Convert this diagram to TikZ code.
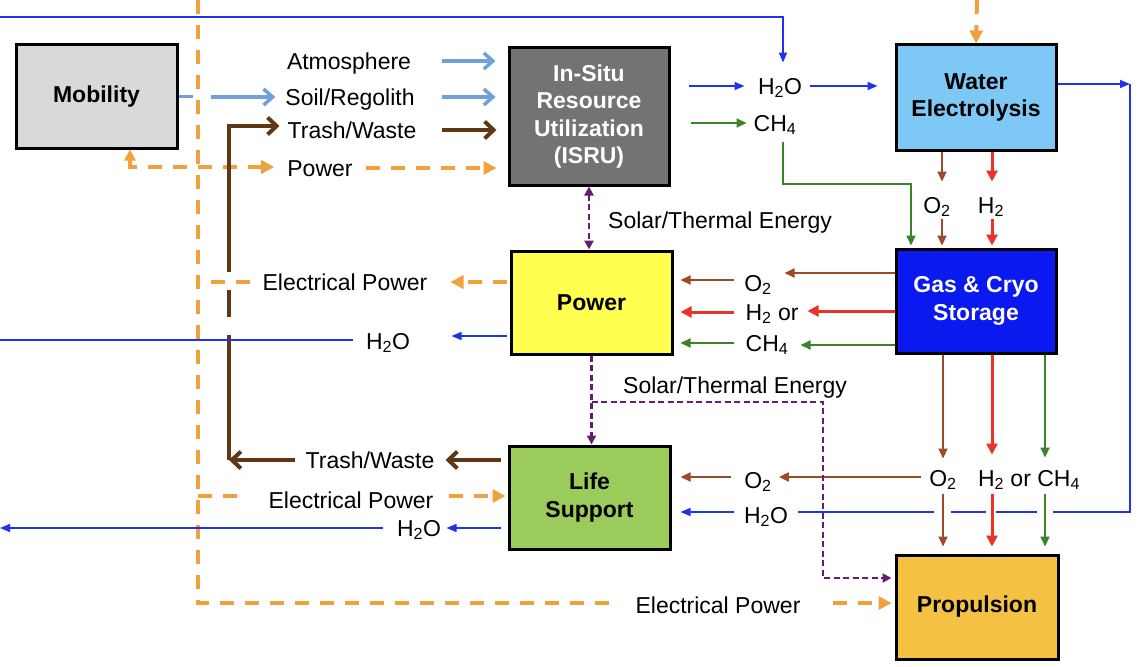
\documentclass[tikz,border=0pt]{standalone}
\usepackage{fontspec}
\setmainfont{Liberation Sans}
\usetikzlibrary{arrows.meta,calc}
\definecolor{lblue}{RGB}{110,160,220}
\definecolor{tbrown}{RGB}{95,55,20}
\definecolor{sbrown}{RGB}{155,75,40}
\definecolor{rred}{RGB}{235,50,40}
\definecolor{ggreen}{RGB}{60,130,40}
\definecolor{bblue}{RGB}{30,50,240}
\definecolor{oorange}{RGB}{240,160,60}
\definecolor{ppurple}{RGB}{100,30,110}
\definecolor{mobfill}{RGB}{217,217,217}
\definecolor{isrufill}{RGB}{115,115,115}
\definecolor{wefill}{RGB}{125,200,245}
\definecolor{powfill}{RGB}{255,255,80}
\definecolor{gasfill}{RGB}{10,25,240}
\definecolor{lifefill}{RGB}{155,203,91}
\definecolor{propfill}{RGB}{244,193,66}
\newcommand{\lab}{\fontsize{23}{27.5}\selectfont}
\newcommand{\sbs}[1]{\textsubscript{#1}}
\tikzset{
  box/.style={draw=black, line width=3pt, align=center, font=\lab\bfseries, inner sep=0pt},
  lbl/.style={inner sep=0pt, text height=16.5pt, text depth=0pt, font=\lab},
  lb/.style={draw=lblue, line width=3.5pt},
  lba/.style={lb, -{Straight Barb[length=9pt,width=16pt]}},
  tb/.style={draw=tbrown, line width=4pt},
  tba/.style={tb, -{Straight Barb[length=9pt,width=17pt]}},
  bl/.style={draw=bblue, line width=1.6pt},
  bla/.style={bl, -{Triangle[length=10pt,width=8pt]}},
  sb/.style={draw=sbrown, line width=2pt},
  sba/.style={sb, -{Triangle[length=10pt,width=9pt]}},
  rd/.style={draw=rred, line width=3pt},
  rda/.style={rd, -{Triangle[length=11pt,width=11pt]}},
  gn/.style={draw=ggreen, line width=2pt},
  gna/.style={gn, -{Triangle[length=10pt,width=9pt]}},
  od/.style={draw=oorange, line width=4pt, dash pattern=on 14pt off 11pt},
  oda/.style={od, -{Triangle[length=13pt,width=13pt]}},
  pd/.style={draw=ppurple, line width=2.2pt, dash pattern=on 6pt off 3.5pt},
  pda/.style={pd, -{Triangle[length=9pt,width=9pt]}},
}
\begin{document}
\begin{tikzpicture}[x=1pt,y=-1pt]
\useasboundingbox[fill=white] (0,0) rectangle (1142,666);

% boxes
\node[box, fill=mobfill, minimum width=161pt, minimum height=103pt] (mob) at (96.5,96.5) {Mobility};
\node[box, fill=isrufill, text=white, minimum width=160pt, minimum height=137pt] (isru) at (589,116.5) {In-Situ\\Resource\\Utilization\\(ISRU)};
\node[box, fill=wefill, minimum width=160pt, minimum height=105pt] (we) at (976,97.5) {Water\\Electrolysis};
\node[box, fill=powfill, minimum width=161pt, minimum height=103pt] (pow) at (591.5,302.5) {Power};
\node[box, fill=gasfill, text=white, minimum width=160pt, minimum height=104pt] (gas) at (976,301) {Gas \& Cryo\\Storage};
\node[box, fill=lifefill, minimum width=161pt, minimum height=103pt] (life) at (589.5,497.5) {Life\\Support};
\node[box, fill=propfill, minimum width=162pt, minimum height=104pt, text depth=0pt, text height=11pt] (prop) at (977,607) {Propulsion};

% labels
\node[lbl] (atm) at (349,61) {Atmosphere};
\node[lbl] (soil) at (350,97) {Soil/Regolith};
\node[lbl] (trA) at (352,130) {Trash/Waste};
\node[lbl] (pwA) at (320,168) {Power};
\node[lbl] (h2oA) at (780,86) {H\sbs{2}O};
\node[lbl] (ch4A) at (775,123) {CH\sbs{4}};
\node[lbl] (o2A) at (937,205) {O\sbs{2}};
\node[lbl] (h2A) at (991,205) {H\sbs{2}};
\node[lbl] (solA) at (720,220) {Solar/Thermal Energy};
\node[lbl] (epA) at (345,282) {Electrical Power};
\node[lbl] (h2oB) at (388,341) {H\sbs{2}O};
\node[lbl] (o2B) at (758,283) {O\sbs{2}};
\node[lbl] (h2B) at (772,312) {H\sbs{2} or};
\node[lbl] (ch4B) at (767,343) {CH\sbs{4}};
\node[lbl] (solB) at (735,385) {Solar/Thermal Energy};
\node[lbl] (trB) at (370,460) {Trash/Waste};
\node[lbl] (epB) at (351,500) {Electrical Power};
\node[lbl] (h2oC) at (419,528) {H\sbs{2}O};
\node[lbl] (o2C) at (943,478) {O\sbs{2}};
\node[lbl] (hcC) at (1029,478) {H\sbs{2} or CH\sbs{4}};
\node[lbl] (o2D) at (758,480) {O\sbs{2}};
\node[lbl] (h2oD) at (766,515) {H\sbs{2}O};
\node[lbl] (epC) at (718,605) {Electrical Power};

% helper coordinates
\coordinate (topL) at (0,17);
\coordinate (topE) at (977,0);
\coordinate (busT) at (198,0);
\coordinate (busB) at (198,603);
\coordinate (brT) at (229,126);
\coordinate (brB) at (229,460);
\coordinate (wR) at (1130,84);
\coordinate (wB) at (1130,512);
\coordinate (leftA) at (0,340);
\coordinate (leftB) at (0,528);
\coordinate (mobP) at (130,167);
\coordinate (solJ) at (591.5,402);
\coordinate (solK) at (823,402);
\coordinate (solL) at (823,578);
\coordinate (cO) at (943,0);
\coordinate (cH) at (992,0);
\coordinate (cC) at (1045,0);

% orange power bus
\draw[od] (busT) -- (busB) -- ([xshift=-18]epC.west |- busB);
\draw[oda] ([xshift=32]epC.east |- busB) -- ([xshift=-3]prop.west |- busB);
\draw[oda] (topE) -- (we.north);
\draw[od, {Triangle[length=11pt,width=11pt]}-{Triangle[length=13pt,width=13pt]}] (mob.south -| mobP) -- (mobP) -- ([xshift=-13]pwA.west |- mobP);
\draw[oda] ([xshift=-142]isru.west |- pwA) -- ([xshift=-11]isru.west |- pwA);
\draw[oda] ([xshift=-3]pow.west |- epA) -- ([xshift=-59]pow.west |- epA);
\draw[od] ([xshift=52]busT |- epA) -- (busT |- epA);
\draw[od] ([yshift=4]busT |- epB) -- ([xshift=41,yshift=4]busT |- epB);
\draw[oda] ([xshift=-59,yshift=4]life.west |- epB) -- ([xshift=-2,yshift=4]life.west |- epB);

% light blue inputs
\draw[lba] ([xshift=-66]isru.west |- atm) -- ([xshift=-12]isru.west |- atm);
\draw[lb] (mob.east) -- ([xshift=-5]busT |- mob.east);
\draw[lba] ([xshift=13]busT |- soil) -- ([xshift=-10]soil.west);
\draw[lba] ([xshift=-66]isru.west |- soil) -- ([xshift=-12]isru.west |- soil);

% trash / waste loop
\draw[tba] ([xshift=-66]isru.west |- trA) -- ([xshift=-11]isru.west |- trA);
\draw[tba] ([xshift=-7]life.west |- trB) -- ([xshift=-62]life.west |- trB);
\draw[tba] ([xshift=-10]trB.west) -- (brB);
\draw[tb] (brB) -- ([yshift=6]brB |- h2oB);
\draw[tb] ([yshift=24]brB |- h2oB) -- ([yshift=-8]brB |- epA);
\draw[tba] ([yshift=10]brB |- epA) -- (brT) -- ([xshift=-8]trA.west |- brT);

% water lines
\draw[bla] (topL) -| ([xshift=3,yshift=15]h2oA.north);
\draw[bla] ([xshift=18]isru.east |- h2oA) -- ([xshift=74]isru.east |- h2oA);
\draw[bla] ([xshift=-85]we.west |- h2oA) -- ([xshift=-17]we.west |- h2oA);
\draw[bla] ([yshift=13.5]we.east) -- (wR);
\draw[bl] (wR) -- (wB) -- ([xshift=8]cC |- wB);
\draw[bl] ([xshift=-8]cC |- wB) -- ([xshift=4]cH |- wB);
\draw[bl] ([xshift=-6]cH |- wB) -- ([xshift=8]cO |- wB);
\draw[bl] ([xshift=-9]cO |- wB) -- ([xshift=10]h2oD.east |- wB);
\draw[bla] ([xshift=62]life.east |- wB) -- ([xshift=9]life.east |- wB);
\draw[bla] ([xshift=-3,yshift=5]pow.west |- h2oB) -- ([xshift=-58,yshift=5]pow.west |- h2oB);
\draw[bl] ([xshift=-13]h2oB.west |- leftA) -- (leftA);
\draw[bla] ([xshift=-7]life.west |- h2oC) -- ([xshift=-61]life.west |- h2oC);
\draw[bla] ([xshift=-14]h2oC.west |- leftB) -- (leftB);

% methane
\draw[gna] ([xshift=20]isru.east |- ch4A) -- ([xshift=76]isru.east |- ch4A);
\draw[gna] ([xshift=8,yshift=-11]ch4A.south) -- ++(0,42) -| ([xshift=-65,yshift=2]gas.north);

% electrolysis outputs
\draw[sba] ([xshift=-34]we.south) -- ([xshift=-34,yshift=-30]we.south);
\draw[sba] ([xshift=-34,yshift=29]gas.north) -- ([xshift=-34,yshift=2]gas.north);
\draw[rda] ([xshift=16]we.south) -- ([xshift=16,yshift=-30]we.south);
\draw[rda] ([xshift=16,yshift=29]gas.north) -- ([xshift=16,yshift=2]gas.north);

% storage to power
\draw[sba] ([yshift=28]gas.west) -- ([xshift=-110,yshift=28]gas.west);
\draw[sba] ([xshift=60,yshift=3]pow.east |- o2B) -- ([xshift=7,yshift=3]pow.east |- o2B);
\draw[rda] ([yshift=-10]gas.west) -- ([xshift=-87,yshift=-10]gas.west);
\draw[rda] ([xshift=60]pow.east |- h2B) -- ([xshift=7]pow.east |- h2B);
\draw[gna] ([yshift=-44]gas.west) -- ([xshift=-94,yshift=-44]gas.west);
\draw[gna] ([xshift=60]pow.east |- ch4B) -- ([xshift=7]pow.east |- ch4B);

% storage down to propulsion
\draw[sba] (gas.south -| cO) -- ++(0,104);
\draw[rda] (gas.south -| cH) -- ++(0,100);
\draw[gna] (gas.south -| cC) -- ++(0,103);
\draw[sba] (prop.north -| cO) ++(0,-60) -- ++(0,53);
\draw[rda] (prop.north -| cH) ++(0,-60) -- ++(0,53);
\draw[gna] (prop.north -| cC) ++(0,-60) -- ++(0,53);
\draw[sba] ([xshift=-8,yshift=1]o2C.west) -- ([xshift=7,yshift=1]o2D.east |- o2C.west);
\draw[sba] ([xshift=-13,yshift=3]o2D.west) -- ([xshift=9,yshift=3]life.east |- o2D);

% solar / thermal energy
\draw[pd, {Triangle[length=9pt,width=9pt]}-{Triangle[length=9pt,width=9pt]}] (isru.south) -- (isru.south |- pow.north);
\draw[pda] (pow.south) -- (pow.south |- life.north);
\draw[pda] (solJ) -- (solK) -- (solL) -- ([xshift=-3]solL -| prop.west);
\end{tikzpicture}
\end{document}
